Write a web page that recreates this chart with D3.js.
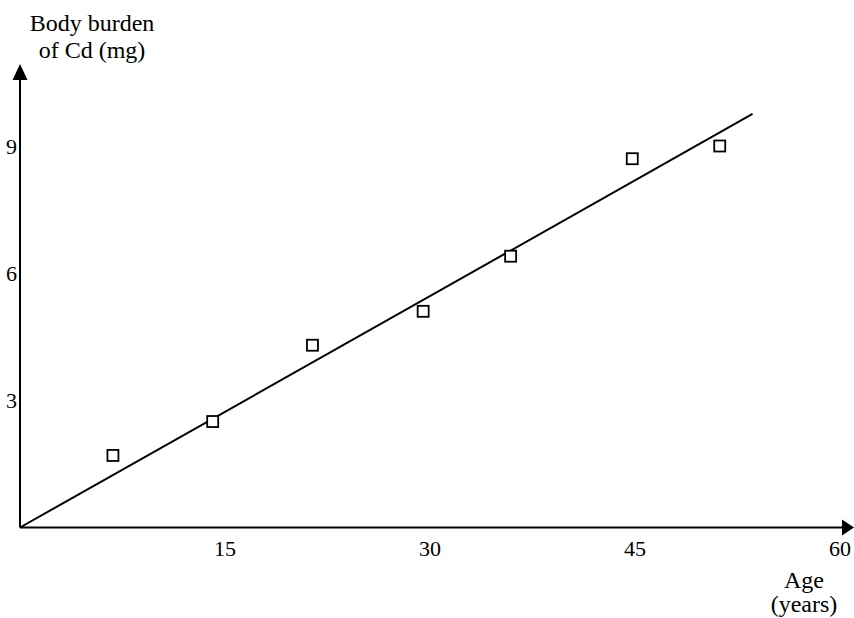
<!DOCTYPE html>
<html>
<head>
<meta charset="utf-8">
<script src="https://cdn.jsdelivr.net/npm/d3@7"></script>
<style>
  html, body { margin: 0; padding: 0; background: #fff; }
  svg { display: block; }
  text { font-family: "Liberation Serif", "Times New Roman", serif; fill: #000; }
</style>
</head>
<body>
<script>
// Measured cadmium body burden by age
const ages    = [6.8, 14.1, 21.4, 29.5, 35.9, 44.8, 51.2];
const burdens = [1.7, 2.5, 4.3, 5.1, 6.4, 8.7, 9.0];

// Fitted straight line through the origin
const fitSlope = 0.182;          // mg per year
const fitAgeRange = [0, 53.6];

// Axis tick labels
const xTicks = [15, 30, 45, 60];
const yTicks = [3, 6, 9];

const xTitle = ["Age", "(years)"];
const yTitle = ["Body burden", "of Cd (mg)"];

const W = 854, H = 618;
const svg = d3.select("body").append("svg")
  .attr("width", W).attr("height", H);

const x = d3.scaleLinear().domain([0, 60]).range([20, 840]);
const y = d3.scaleLinear().domain([0, 9]).range([527.5, 146]);

const x0 = x(0), y0 = y(0);

// Axes with arrowheads
svg.append("line")
  .attr("x1", x0).attr("y1", y0).attr("x2", x0).attr("y2", 78)
  .attr("stroke", "#000").attr("stroke-width", 2);
svg.append("path")
  .attr("d", `M${x0},64 L${x0 - 7.5},80 L${x0 + 7.5},80 Z`)
  .attr("fill", "#000");

svg.append("line")
  .attr("x1", x0).attr("y1", y0).attr("x2", 844).attr("y2", y0)
  .attr("stroke", "#000").attr("stroke-width", 2);
svg.append("path")
  .attr("d", `M854,${y0} L842,${y0 - 8} L842,${y0 + 8} Z`)
  .attr("fill", "#000");

// Tick labels (no tick marks)
svg.append("g").selectAll("text").data(xTicks).join("text")
  .attr("x", d => x(d)).attr("y", 556)
  .attr("text-anchor", "middle")
  .attr("font-size", 22)
  .text(d => d);

svg.append("g").selectAll("text").data(yTicks).join("text")
  .attr("x", 11.5).attr("y", d => y(d) + 7.5)
  .attr("text-anchor", "middle")
  .attr("font-size", 22)
  .text(d => d);

// Axis titles
svg.append("g").selectAll("text").data(yTitle).join("text")
  .attr("x", 92).attr("y", (d, i) => 31 + i * 27)
  .attr("text-anchor", "middle")
  .attr("font-size", 24)
  .text(d => d);

svg.append("g").selectAll("text").data(xTitle).join("text")
  .attr("x", 804).attr("y", (d, i) => 588 + i * 24)
  .attr("text-anchor", "middle")
  .attr("font-size", 24)
  .text(d => d);

// Fitted line
const fitLine = d3.line().x(d => x(d)).y(d => y(fitSlope * d));
svg.append("path")
  .attr("d", fitLine(fitAgeRange))
  .attr("fill", "none")
  .attr("stroke", "#000")
  .attr("stroke-width", 2);

// Data points as open squares
const pts = ages.map((a, i) => ({ age: a, burden: burdens[i] }));
const s = 11;
svg.append("g").selectAll("rect").data(pts).join("rect")
  .attr("x", d => x(d.age) - s / 2)
  .attr("y", d => y(d.burden) - s / 2)
  .attr("width", s).attr("height", s)
  .attr("fill", "#fff")
  .attr("stroke", "#000")
  .attr("stroke-width", 1.8);
</script>
</body>
</html>
